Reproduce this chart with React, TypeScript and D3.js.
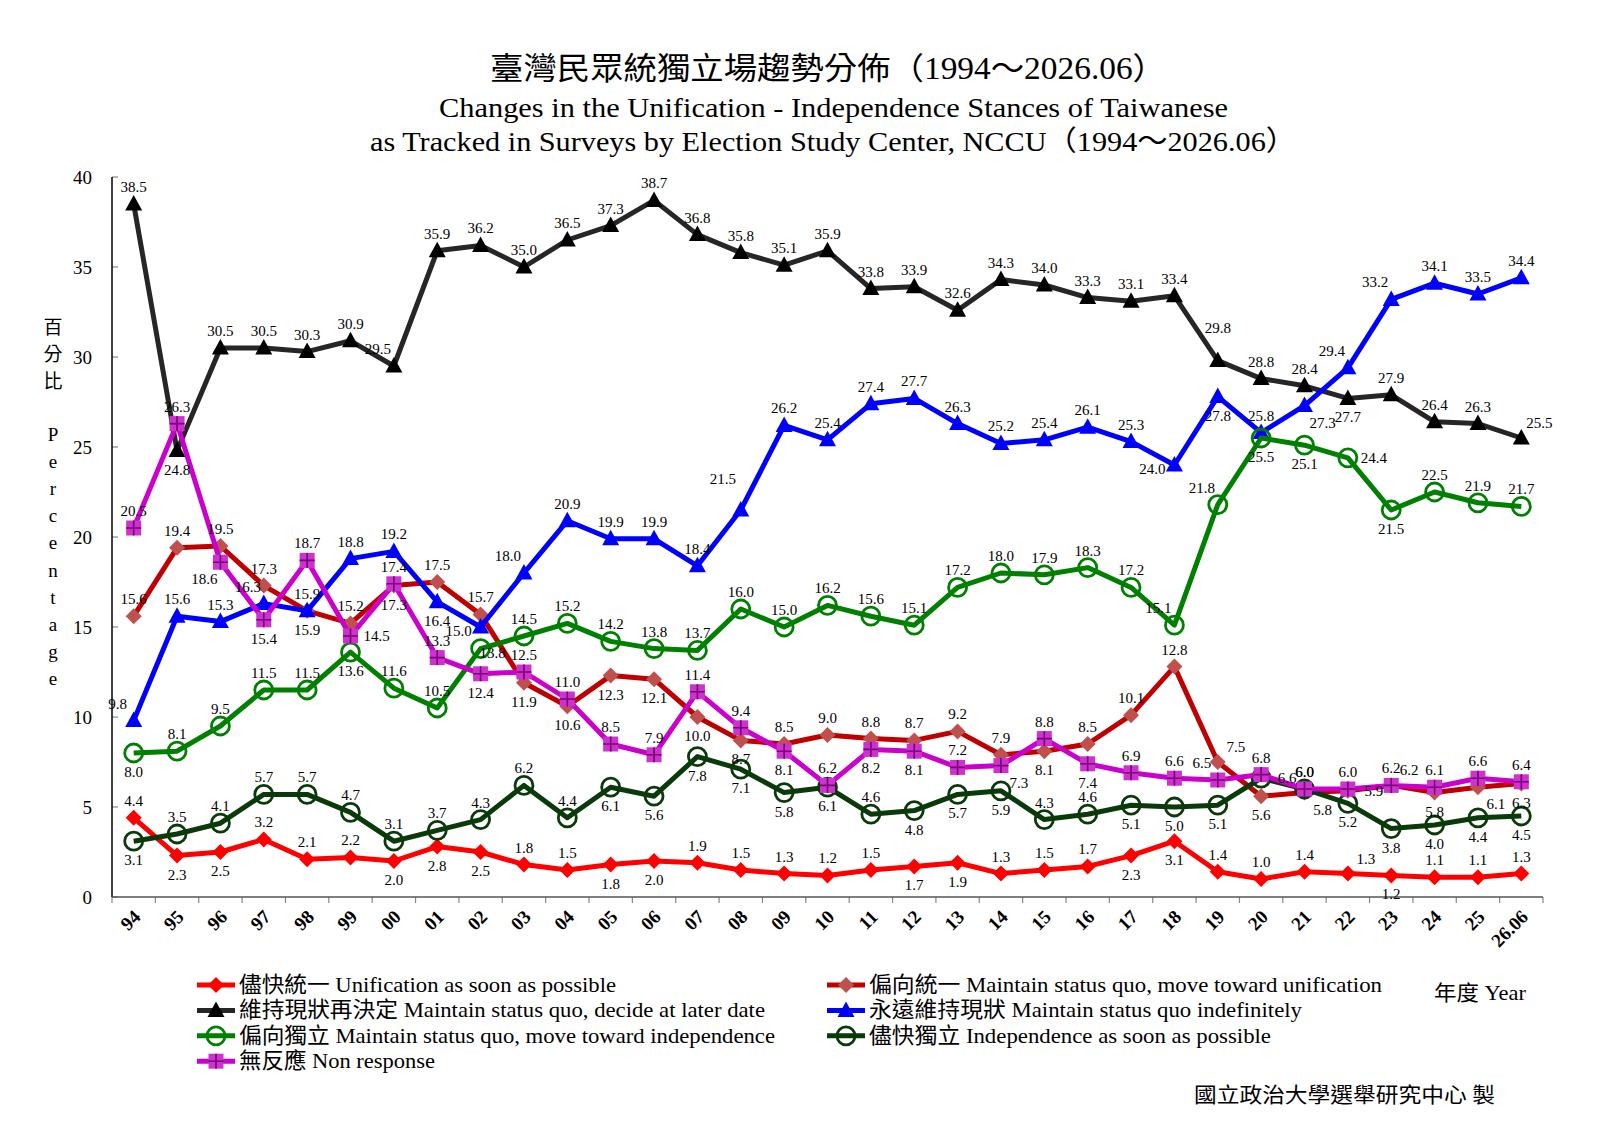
import React from "react";
import * as d3 from "d3";

// survey years (x categories)
const years = ["94", "95", "96", "97", "98", "99", "00", "01", "02", "03", "04", "05", "06", "07", "08", "09", "10", "11", "12", "13", "14", "15", "16", "17", "18", "19", "20", "21", "22", "23", "24", "25", "26.06"];

// percentages
const unifAsap = [4.4, 2.3, 2.5, 3.2, 2.1, 2.2, 2.0, 2.8, 2.5, 1.8, 1.5, 1.8, 2.0, 1.9, 1.5, 1.3, 1.2, 1.5, 1.7, 1.9, 1.3, 1.5, 1.7, 2.3, 3.1, 1.4, 1.0, 1.4, 1.3, 1.2, 1.1, 1.1, 1.3];
const towardUnif = [15.6, 19.4, 19.5, 17.3, 15.9, 15.2, 17.3, 17.5, 15.7, 11.9, 10.6, 12.3, 12.1, 10.0, 8.7, 8.5, 9.0, 8.8, 8.7, 9.2, 7.9, 8.1, 8.5, 10.1, 12.8, 7.5, 5.6, 5.8, 5.9, 6.2, 5.8, 6.1, 6.3];
const decideLater = [38.5, 24.8, 30.5, 30.5, 30.3, 30.9, 29.5, 35.9, 36.2, 35.0, 36.5, 37.3, 38.7, 36.8, 35.8, 35.1, 35.9, 33.8, 33.9, 32.6, 34.3, 34.0, 33.3, 33.1, 33.4, 29.8, 28.8, 28.4, 27.7, 27.9, 26.4, 26.3, 25.5];
const indefinitely = [9.8, 15.6, 15.3, 16.3, 15.9, 18.8, 19.2, 16.4, 15.0, 18.0, 20.9, 19.9, 19.9, 18.4, 21.5, 26.2, 25.4, 27.4, 27.7, 26.3, 25.2, 25.4, 26.1, 25.3, 24.0, 27.8, 25.8, 27.3, 29.4, 33.2, 34.1, 33.5, 34.4];
const towardIndep = [8.0, 8.1, 9.5, 11.5, 11.5, 13.6, 11.6, 10.5, 13.8, 14.5, 15.2, 14.2, 13.8, 13.7, 16.0, 15.0, 16.2, 15.6, 15.1, 17.2, 18.0, 17.9, 18.3, 17.2, 15.1, 21.8, 25.5, 25.1, 24.4, 21.5, 22.5, 21.9, 21.7];
const indepAsap = [3.1, 3.5, 4.1, 5.7, 5.7, 4.7, 3.1, 3.7, 4.3, 6.2, 4.4, 6.1, 5.6, 7.8, 7.1, 5.8, 6.1, 4.6, 4.8, 5.7, 5.9, 4.3, 4.6, 5.1, 5.0, 5.1, 6.6, 6.0, 5.2, 3.8, 4.0, 4.4, 4.5];
const nonResponse = [20.5, 26.3, 18.6, 15.4, 18.7, 14.5, 17.4, 13.3, 12.4, 12.5, 11.0, 8.5, 7.9, 11.4, 9.4, 8.1, 6.2, 8.2, 8.1, 7.2, 7.3, 8.8, 7.4, 6.9, 6.6, 6.5, 6.8, 6.0, 6.0, 6.2, 6.1, 6.6, 6.4];

const yTicks = [0, 5, 10, 15, 20, 25, 30, 35, 40];

const seriesNames = [
  "儘快統一 Unification as soon as possible",
  "偏向統一 Maintain status quo, move toward unification",
  "維持現狀再決定 Maintain status quo, decide at later date",
  "永遠維持現狀 Maintain status quo indefinitely",
  "偏向獨立 Maintain status quo, move toward independence",
  "儘快獨立 Independence as soon as possible",
  "無反應 Non response",
];

const SERIF = "'Liberation Serif', 'Times New Roman', 'Noto Sans CJK TC', serif";

// label placement codes: a above, A high above, b below, L/R upper left/right, K high upper left,
// l/r lower left/right, w/e left/right, f just right
const OFFSETS: Record<string, [number, number]> = {
  a: [0, -12], A: [0, -28], b: [0, 24], L: [-16, -12], R: [18, -10], K: [-18, -26],
  l: [-16, 22], r: [18, 22], w: [-22, 9], e: [26, 5], f: [12, 9],
};

type Kind = "diamond" | "triangle" | "circle" | "square";

const series = [
  { values: unifAsap, line: "#ff0000", mark: "#ff0000", kind: "diamond" as Kind, place: "abbaaabbbaabbaaaaabbaaabbaaaRbaaa" },
  { values: towardUnif, line: "#c00000", mark: "#c0504d", kind: "diamond" as Kind, place: "aaaaaabaabbbbbbaaaaaabaaaRbreRbrb" },
  { values: decideLater, line: "#262626", mark: "#000000", kind: "triangle" as Kind, place: "abaaaaLaaaaaaaaaaaaaaaaaaAaabaaaR" },
  { values: indefinitely, line: "#0000ff", mark: "#0000ff", kind: "triangle" as Kind, place: "LaaLbaabwLaaaaKaaaaaaaaawbarLLaaa" },
  { values: towardIndep, line: "#008000", mark: "#008000", kind: "circle" as Kind, place: "baaaabaafaaaaaaaaaaaaaaaLLbbebaaa" },
  { values: indepAsap, line: "#0a3a0a", mark: "#0a3a0a", kind: "circle" as Kind, place: "baaaaaaaaaabbbbbbabbbaabbbeabbbbb" },
  { values: nonResponse, line: "#cc00cc", mark: "#cc33cc", kind: "square" as Kind, place: "aalbaeaabaaaaaababbarabaaLaaaaaaa" },
];

function Marker({ kind, color, x, y }: { kind: Kind; color: string; x: number; y: number }) {
  if (kind === "diamond") {
    return <path d="M0,-8L8,0L0,8L-8,0Z" fill={color} transform={`translate(${x},${y})`} />;
  }
  if (kind === "triangle") {
    return <path d="M0,-9L8.5,6.5L-8.5,6.5Z" fill={color} transform={`translate(${x},${y})`} />;
  }
  if (kind === "circle") {
    return <circle cx={x} cy={y} r={9} fill="none" stroke={color} strokeWidth={2.8} />;
  }
  return (
    <g transform={`translate(${x},${y})`}>
      <rect x={-7.5} y={-7.5} width={15} height={15} fill={color} />
      <path d="M0,-7.5V7.5M-7.5,0H7.5" stroke="#7a007a" strokeWidth={1.6} />
    </g>
  );
}

export default function App() {
  const width = 1600;
  const height = 1131;
  const plot = { left: 112, right: 1543, top: 177, bottom: 897 };

  const x = d3.scaleBand<string>().domain(years).range([plot.left, plot.right]);
  const cx = (d: string) => (x(d) ?? 0) + x.bandwidth() / 2;
  const y = d3.scaleLinear().domain([0, 40]).range([plot.bottom, plot.top]);

  const line = d3.line<number>()
    .x((_, i) => cx(years[i]))
    .y((v) => y(v));

  // legend layout: [series index, column x, row, text width]
  const legendItems: [number, number, number, number][] = [
    [0, 197, 0, 377], [2, 197, 1, 526], [4, 197, 2, 536], [6, 197, 3, 196],
    [1, 827, 0, 513], [3, 827, 1, 433], [5, 827, 2, 402],
  ];
  const pct = "Percentage".split("");

  return (
    <svg width={width} height={height} style={{ position: "absolute", left: 0, top: 0, background: "#fff" }} fontFamily={SERIF}>
      <rect width={width} height={height} fill="#fff" />

      {/* titles */}
      <text x={490} y={79} fontSize={31} textLength={676} lengthAdjust="spacingAndGlyphs">臺灣民眾統獨立場趨勢分佈（1994～2026.06）</text>
      <text x={439} y={117} fontSize={28} textLength={789} lengthAdjust="spacingAndGlyphs">Changes in the Unification - Independence Stances of Taiwanese</text>
      <text x={370} y={151} fontSize={28} textLength={926} lengthAdjust="spacingAndGlyphs">as Tracked in Surveys by Election Study Center, NCCU（1994～2026.06）</text>

      {/* y axis title */}
      {"百分比".split("").map((c, i) => (
        <text key={"c" + i} x={53} y={327 + i * 27} fontSize={19} textAnchor="middle" dominantBaseline="central">{c}</text>
      ))}
      {pct.map((c, i) => (
        <text key={"p" + i} x={53} y={434 + i * 27.2} fontSize={19} textAnchor="middle" dominantBaseline="central">{c}</text>
      ))}

      {/* axes */}
      {yTicks.map((t) => (
        <g key={t}>
          <line x1={plot.left} x2={plot.left + 6} y1={y(t)} y2={y(t)} stroke="#888" strokeWidth={1.2} />
          <text x={92} y={y(t)} fontSize={19} textAnchor="end" dominantBaseline="central">{t}</text>
        </g>
      ))}
      {years.map((d) => (
        <line key={"t" + d} x1={x(d)} x2={x(d)} y1={plot.bottom} y2={plot.bottom + 6} stroke="#888" strokeWidth={1.2} />
      ))}
      <line x1={plot.right} x2={plot.right} y1={plot.bottom} y2={plot.bottom + 6} stroke="#888" strokeWidth={1.2} />
      <line x1={plot.left} x2={plot.left} y1={plot.top} y2={plot.bottom} stroke="#000" strokeWidth={1.5} />
      <line x1={plot.left} x2={plot.right} y1={plot.bottom} y2={plot.bottom} stroke="#555" strokeWidth={1.5} />
      {years.map((d) => (
        <text key={"x" + d} fontSize={19} fontWeight="bold" textAnchor="end"
          transform={`translate(${cx(d) + 8},${918}) rotate(-45)`}>{d}</text>
      ))}

      {/* series */}
      {series.map((s, si) => (
        <g key={"s" + si}>
          <path d={line(s.values) ?? ""} fill="none" stroke={s.line} strokeWidth={5} strokeLinejoin="round" />
          {s.values.map((v, i) => (
            <Marker key={i} kind={s.kind} color={s.mark} x={cx(years[i])} y={y(v)} />
          ))}
        </g>
      ))}

      {/* data labels */}
      {series.map((s, si) => (
        <g key={"l" + si}>
          {s.values.map((v, i) => {
            const [dx, dy] = OFFSETS[s.place[i]] ?? OFFSETS.a;
            return (
              <text key={i} x={cx(years[i]) + dx} y={y(v) + dy} fontSize={15} textAnchor="middle">{v.toFixed(1)}</text>
            );
          })}
        </g>
      ))}

      {/* legend */}
      {legendItems.map(([si, lx, row, tw]) => {
        const s = series[si];
        const ly = 985 + row * 25.4;
        return (
          <g key={"lg" + si}>
            <line x1={lx} x2={lx + 38} y1={ly} y2={ly} stroke={s.line} strokeWidth={5} />
            <Marker kind={s.kind} color={s.mark} x={lx + 19} y={ly} />
            <text x={lx + 42} y={ly + 7} fontSize={22} textLength={tw} lengthAdjust="spacingAndGlyphs">{seriesNames[si]}</text>
          </g>
        );
      })}

      <text x={1434} y={1000} fontSize={21} textLength={92} lengthAdjust="spacingAndGlyphs">年度 Year</text>
      <text x={1194} y={1102} fontSize={21} textLength={301} lengthAdjust="spacingAndGlyphs">國立政治大學選舉研究中心 製</text>
    </svg>
  );
}
